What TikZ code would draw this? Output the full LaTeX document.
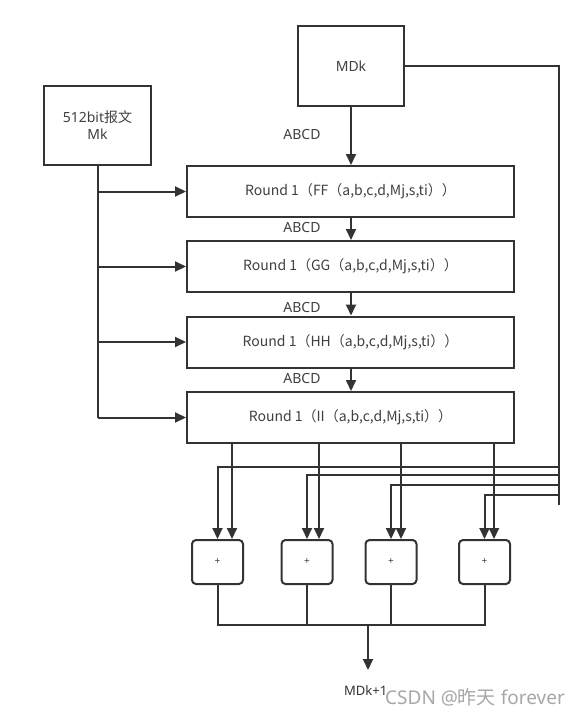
\documentclass[tikz,border=0pt]{standalone}
\usepackage{fontspec}
\setmainfont{Noto Sans}
\newfontfamily\cjk{Noto Sans CJK SC}
\usetikzlibrary{arrows.meta,calc}
\definecolor{ln}{HTML}{333333}
\definecolor{tx}{HTML}{404040}
\begin{document}
\begin{tikzpicture}[x=1pt,y=-1pt,
  box/.style={draw=ln,line width=2pt,rectangle,inner sep=0pt,text=tx,font=\fontsize{14}{17}\selectfont},
  roundbox/.style={box,minimum width=327pt,minimum height=51pt,font=\cjk\fontsize{14}{17}\selectfont},
  plusbox/.style={draw=ln,line width=2pt,rectangle,rounded corners=4pt,minimum width=51pt,minimum height=44pt,inner sep=0pt,text=tx,font=\fontsize{10}{12}\selectfont},
  lbl/.style={text=tx,inner sep=0pt,font=\fontsize{14}{17}\selectfont},
  wire/.style={draw=ln,line width=2pt},
  arr/.style={wire,-{Triangle[length=11pt,width=10pt]}}]
\useasboundingbox (0,0) rectangle (579,715);
\fill[white] (0,0) rectangle (579,715);
% nodes
\node[box,minimum width=106pt,minimum height=80pt] (mdk) at (351,66) {MDk};
\node[box,minimum width=107pt,minimum height=79pt,align=center] (msg) at (97.5,125.5) {512bit{\cjk 报文}\\Mk};
\node[roundbox] (r1) at (350.5,191.5) {Round 1（FF（a,b,c,d,Mj,s,ti））};
\node[roundbox] (r2) at (350.5,266.5) {Round 1（GG（a,b,c,d,Mj,s,ti））};
\node[roundbox] (r3) at (350.5,342) {Round 1（HH（a,b,c,d,Mj,s,ti））};
\node[roundbox] (r4) at (350.5,417.5) {Round 1（II（a,b,c,d,Mj,s,ti））};
\node[lbl] (l0) at (302,134) {ABCD};
\node[lbl] (l1) at (302,227) {ABCD};
\node[lbl] (l2) at (302,307) {ABCD};
\node[lbl] (l3) at (302,378) {ABCD};
\node[plusbox] (p1) at (217.5,562) {+};
\node[plusbox] (p2) at (307,562) {+};
\node[plusbox] (p3) at (391,562) {+};
\node[plusbox] (p4) at (484.5,562) {+};
\node[text=ln,inner sep=0pt,anchor=west,font=\fontsize{13}{15}\selectfont] (out) at (344,691) {MDk+1};
\node[text=black!38,opacity=0.9,inner sep=0pt,anchor=west,font=\fontsize{19}{22}\selectfont] (wm) at (385,697) {CSDN @{\cjk 昨天} forever};
% coordinates
\coordinate (rt) at (559,66);
\coordinate (rb) at (559,505);
\coordinate (b1) at (559,467);
\coordinate (b2) at (559,475);
\coordinate (b3) at (559,485);
\coordinate (b4) at (559,495);
\coordinate (t1) at ([xshift=14.5pt]p1.north);
\coordinate (t2) at ([xshift=12pt]p2.north);
\coordinate (t3) at ([xshift=10pt]p3.north);
\coordinate (t4) at ([xshift=9.5pt]p4.north);
\coordinate (hl) at (217.5,625);
\coordinate (hr) at (484.5,625);
\coordinate (j) at (368,625);
\coordinate (tip) at (368,670);
% main chain
\draw[arr] (mdk.south) -- (mdk.south |- r1.north);
\draw[arr] (mdk.south |- r1.south) -- (mdk.south |- r2.north);
\draw[arr] (mdk.south |- r2.south) -- (mdk.south |- r3.north);
\draw[arr] (mdk.south |- r3.south) -- (mdk.south |- r4.north);
% message bus
\draw[wire] (msg.south) -- (msg.south |- r4.west);
\draw[arr] (msg.south |- r1.west) -- (r1.west);
\draw[arr] (msg.south |- r2.west) -- (r2.west);
\draw[arr] (msg.south |- r3.west) -- (r3.west);
\draw[arr] (msg.south |- r4.west) -- (r4.west);
% MDk feed-forward
\draw[wire] (mdk.east) -- (rt) -- (rb);
\draw[arr] (b1) -| (p1.north);
\draw[arr] (b2) -| (p2.north);
\draw[arr] (b3) -| (p3.north);
\draw[arr] (b4) -| (p4.north);
% round outputs
\draw[arr] (r4.south -| t1) -- (t1);
\draw[arr] (r4.south -| t2) -- (t2);
\draw[arr] (r4.south -| t3) -- (t3);
\draw[arr] (r4.south -| t4) -- (t4);
% collect
\draw[wire] (p1.south) -- (hl) -- (hr) -- (p4.south);
\draw[wire] (p2.south) -- (p2.south |- hl);
\draw[wire] (p3.south) -- (p3.south |- hl);
\draw[arr] (j) -- (tip);
\end{tikzpicture}
\end{document}
